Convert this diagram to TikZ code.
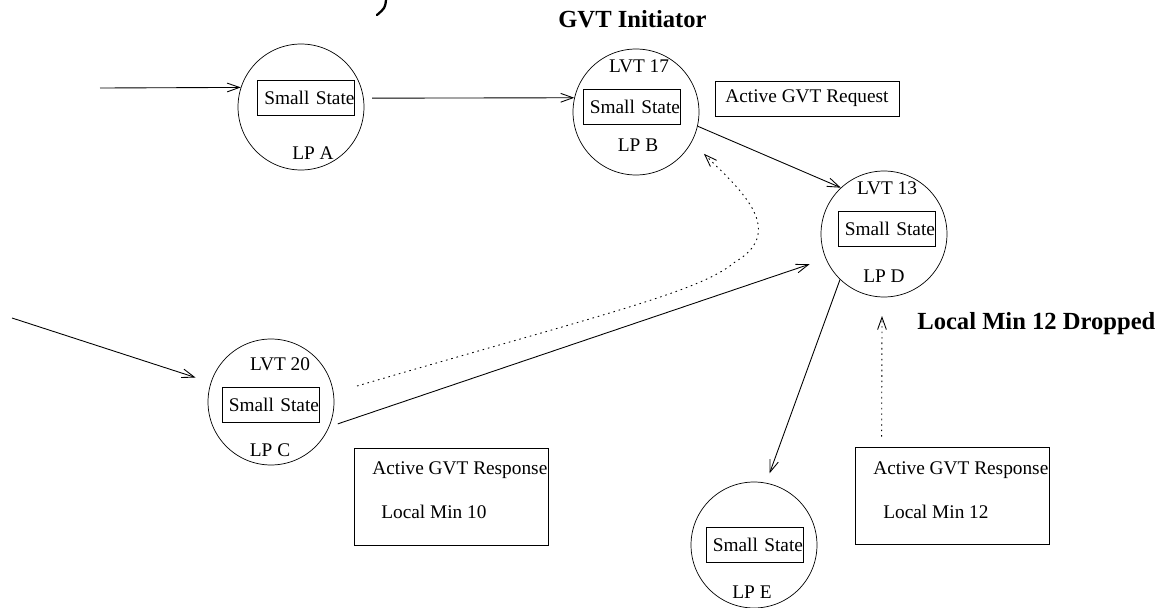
\documentclass[tikz,border=0pt]{standalone}
\usepackage{fontspec}
\setmainfont{Liberation Serif}
\usetikzlibrary{arrows.meta}
\newcommand{\lpfont}{\fontsize{11}{13}\selectfont}
\newcommand{\titlefont}{\fontsize{14}{16}\selectfont\bfseries}

\begin{document}
\begin{tikzpicture}[x=0.02cm, y=-0.02cm,
  lp/.style={draw, circle, minimum size=2.52cm, inner sep=0pt},
  statebox/.style={draw, inner sep=0pt, text width=1.94cm, minimum height=0.7cm, align=right, font=\lpfont},
  respbox/.style={draw, minimum width=3.88cm, minimum height=1.94cm, inner sep=0pt},
  lbl/.style={font=\lpfont, inner sep=0pt},
  title/.style={font=\titlefont, inner sep=0pt},
  msg/.style={-{Straight Barb[length=7pt,width=5pt]}, line width=0.5pt},
  probe/.style={msg, dash pattern=on 0.9pt off 2.2pt}]
\useasboundingbox (0,0) rectangle (1160,608);

% Draw logical processes
\node[lp] (lpA) at (301,107) {};
\node[lp] (lpB) at (636,112) {};
\node[lp] (lpC) at (271,402) {};
\node[lp] (lpD) at (884,234) {};
\node[lp] (lpE) at (754,545) {};

% Draw states, clocks and names
\node[statebox] (stA) at (306,98) {Small State};
\node[statebox] (stB) at (631.5,107) {Small State};
\node[statebox] (stC) at (270.5,404.5) {Small State};
\node[statebox] (stD) at (886.5,229) {Small State};
\node[statebox] (stE) at (754.5,544.5) {Small State};
\node[lbl] (lvtB) at (639,66) {LVT 17};
\node[lbl] (lvtC) at (280,364) {LVT 20};
\node[lbl] (lvtD) at (887,188) {LVT 13};
\node[lbl] (nameA) at (313,153) {LP A};
\node[lbl] (nameB) at (638,145) {LP B};
\node[lbl] (nameC) at (270,450) {LP C};
\node[lbl] (nameD) at (884,276) {LP D};
\node[lbl] (nameE) at (752,592) {LP E};

% GVT request and responses
\node[draw, minimum width=3.68cm, minimum height=0.7cm, font=\lpfont] (request) at (807,98.5) {Active GVT Request};
\node[respbox] (resp10) at (451,496.5) {};
\node[respbox] (resp12) at (952,495.5) {};
\node[lbl, anchor=base west] (resp10a) at (372,474.5) {Active GVT Response};
\node[lbl, anchor=base west] (resp10b) at (381,518.5) {Local Min 10};
\node[lbl, anchor=base west] (resp12a) at (873,474.5) {Active GVT Response};
\node[lbl, anchor=base west] (resp12b) at (883,518.5) {Local Min 12};

% Labels
\node[title, anchor=base west] (initiator) at (558,28) {GVT Initiator};
\node[title, anchor=base west] (dropped) at (917,329) {Local Min 12 Dropped};

% Incoming messages
\coordinate (inA) at (100,88);
\coordinate (inC) at (12,318);
\draw[msg] (inA) -- (lpA.162);
\draw[msg, shorten >=0.32cm] (inC) -- (lpC);

% Messages between processes
\draw[msg, shorten <=0.17cm] (lpA.8) -- (lpB.167);
\draw[msg] (lpB.-13) -- (lpD.133);
\draw[msg, shorten <=0.18cm, shorten >=0.34cm] (lpC.-23) -- (lpD.203);
\draw[msg, shorten >=0.2cm] (lpD.-134) -- (lpE.79);

% GVT probes
\coordinate (probeC) at (357,386);
\draw[probe, shorten >=0.34cm] (probeC) .. controls (600,315) and (700,292) .. (735,262)
  .. controls (790,230) and (735,185) .. (lpB.-28);
\coordinate (dropE) at (882,316);
\draw[probe] ([xshift=0.54cm,yshift=0.2cm]resp12.north west) -- (dropE);

% Cut-off stroke at the top
\draw[line width=1.3pt, line cap=round] (386,0) .. controls (385,8) .. (377,15);
\end{tikzpicture}
\end{document}
